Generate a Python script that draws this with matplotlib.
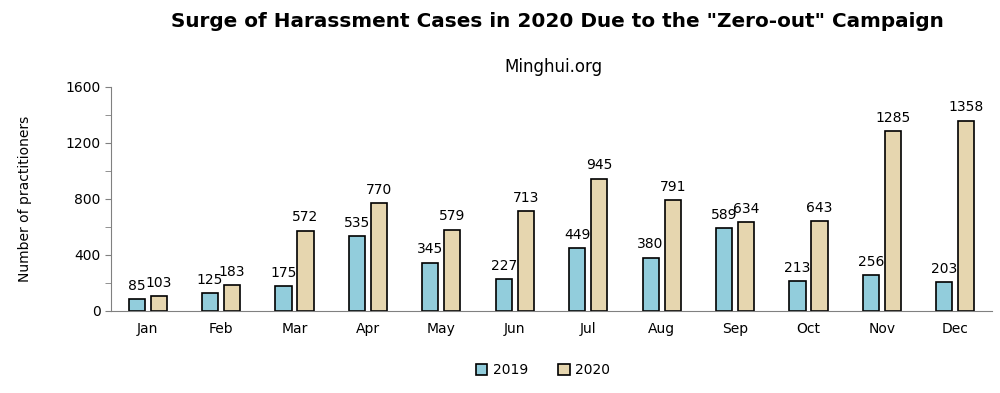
import numpy as np
import matplotlib.pyplot as plt

months = ['Jan', 'Feb', 'Mar', 'Apr', 'May', 'Jun', 'Jul', 'Aug', 'Sep', 'Oct', 'Nov', 'Dec']
cases_2019 = [85, 125, 175, 535, 345, 227, 449, 380, 589, 213, 256, 203]
cases_2020 = [103, 183, 572, 770, 579, 713, 945, 791, 634, 643, 1285, 1358]

fig = plt.figure(figsize=(10, 3.93), dpi=100)
ax = fig.add_axes([0.111, 0.209, 0.881, 0.570])

x = np.arange(len(months))
w = 0.22
b1 = ax.bar(x - 0.15, cases_2019, w, color='#92cddc', edgecolor='black', linewidth=1.2, label='2019')
b2 = ax.bar(x + 0.15, cases_2020, w, color='#e6d6af', edgecolor='black', linewidth=1.2, label='2020')

for bars in (b1, b2):
    for r in bars:
        ax.text(r.get_x() + r.get_width() / 2, r.get_height() + 45, str(int(r.get_height())),
                ha='center', va='bottom', fontsize=10)

ax.set_xlim(-0.5, 11.5)
ax.set_ylim(0, 1600)
ax.set_yticks([0, 400, 800, 1200, 1600])
ax.set_yticks(np.arange(0, 1601, 200), minor=True)
ax.set_xticks(x)
ax.set_xticklabels(months, fontsize=10)
ax.tick_params(axis='x', length=0, pad=8)
ax.tick_params(axis='y', which='both', length=4, color='#808080', labelsize=10)
ax.set_ylabel('Number of practitioners', fontsize=10, labelpad=24)

for s in ['top', 'right']:
    ax.spines[s].set_visible(False)
ax.spines['left'].set_color('#808080')
ax.spines['bottom'].set_color('#808080')

fig.text(0.557, 0.945, 'Surge of Harassment Cases in 2020 Due to the "Zero-out" Campaign',
         ha='center', va='center', fontsize=14.4, fontweight='bold')
fig.text(0.553, 0.83, 'Minghui.org', ha='center', va='center', fontsize=12)

fig.legend(handles=[b1, b2], loc='center', bbox_to_anchor=(0.543, 0.058), ncol=2,
           frameon=False, fontsize=10, handlelength=0.8, handleheight=0.8,
           handletextpad=0.4, columnspacing=2.2)

fig.savefig('out.png')
